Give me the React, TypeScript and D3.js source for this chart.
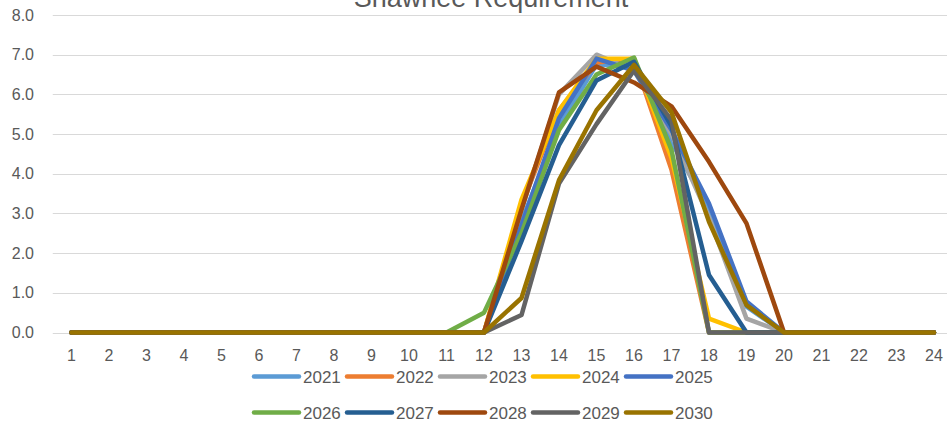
import React from "react";
import * as d3 from "d3";

const categories = Array.from({ length: 24 }, (_, i) => String(i + 1));
const yTicks = [0, 1, 2, 3, 4, 5, 6, 7, 8];
const seriesNames = ["2021", "2022", "2023", "2024", "2025", "2026", "2027", "2028", "2029", "2030"];
const seriesColors = ["#5B9BD5", "#ED7D31", "#A5A5A5", "#FFC000", "#4472C4", "#70AD47", "#255E91", "#9E480E", "#636363", "#997300"];

const z11 = [0, 0, 0, 0, 0, 0, 0, 0, 0, 0, 0];
const z4 = [0, 0, 0, 0];
const s2021 = [...z11, 0, 2.8, 5.2, 6.75, 6.7, 4.8, 3.1, 0.65, 0, ...z4];
const s2022 = [...z11, 0, 3.2, 5.6, 6.8, 6.9, 4.1, 0, 0, 0, ...z4];
const s2023 = [...z11, 0, 3.1, 6.0, 7.0, 6.6, 5.0, 2.9, 0.35, 0, ...z4];
const s2024 = [...z11, 0, 3.35, 5.6, 6.9, 6.9, 4.4, 0.35, 0, 0, ...z4];
const s2025 = [...z11, 0, 2.7, 5.4, 6.9, 6.6, 5.1, 3.25, 0.78, 0, ...z4];
const s2026 = [...z11, 0.5, 2.5, 5.1, 6.5, 6.93, 4.6, 0, 0, 0, ...z4];
const s2027 = [...z11, 0, 2.3, 4.72, 6.35, 6.82, 5.2, 1.45, 0, 0, ...z4];
const s2028 = [...z11, 0, 3.1, 6.05, 6.7, 6.3, 5.7, 4.3, 2.75, 0, ...z4];
const s2029 = [...z11, 0, 0.44, 3.75, 5.25, 6.6, 5.35, 0, 0, 0, ...z4];
const s2030 = [...z11, 0, 0.87, 3.84, 5.6, 6.74, 5.55, 2.79, 0.69, 0, ...z4];
const seriesValues = [s2021, s2022, s2023, s2024, s2025, s2026, s2027, s2028, s2029, s2030];

const W = 947;
const H = 424;
const font = "'Liberation Sans', Arial, sans-serif";
const textColor = "#595959";

export default function App() {
  const x = d3.scaleBand<string>().domain(categories).range([52.75, 952.75]);
  const cx = (c: string) => (x(c) as number) + x.bandwidth() / 2;
  const y = d3.scaleLinear().domain([0, 8]).range([332.5, 15]);
  const line = d3
    .line<number>()
    .x((_, i) => cx(categories[i]))
    .y((d) => y(d));

  const legendX0 = 254;
  const legendStep = 93;
  const legendRows = [376.5, 412.5];

  return (
    <svg
      width={W}
      height={H}
      style={{ position: "absolute", left: 0, top: 0, background: "#fff" }}
      fontFamily={font}
    >
      <rect x={0} y={0} width={W} height={H} fill="#fff" />
      <text x={491} y={7} textAnchor="middle" fontSize={27} fill={textColor}>
        Shawnee Requirement
      </text>
      {yTicks.map((t) => (
        <g key={t}>
          <line x1={52.75} x2={952.75} y1={Math.round(y(t)) + 0.5} y2={Math.round(y(t)) + 0.5} stroke="#D9D9D9" strokeWidth={1} />
          <text x={34} y={y(t)} dy="0.35em" textAnchor="end" fontSize={16} fill={textColor}>
            {t.toFixed(1)}
          </text>
        </g>
      ))}
      {categories.map((c) => (
        <text key={c} x={cx(c)} y={361} textAnchor="middle" fontSize={16} fill={textColor}>
          {c}
        </text>
      ))}
      {seriesValues.map((vals, i) => (
        <path
          key={seriesNames[i]}
          d={line(vals) as string}
          fill="none"
          stroke={seriesColors[i]}
          strokeWidth={4.5}
          strokeLinejoin="round"
          strokeLinecap="round"
        />
      ))}
      {seriesNames.map((name, i) => {
        const row = Math.floor(i / 5);
        const col = i % 5;
        const lx = legendX0 + col * legendStep;
        const ly = legendRows[row];
        return (
          <g key={name}>
            <line x1={lx} x2={lx + 45} y1={ly} y2={ly} stroke={seriesColors[i]} strokeWidth={4.5} strokeLinecap="round" />
            <text x={lx + 49} y={ly} dy="0.36em" fontSize={17} fill={textColor}>
              {name}
            </text>
          </g>
        );
      })}
    </svg>
  );
}
